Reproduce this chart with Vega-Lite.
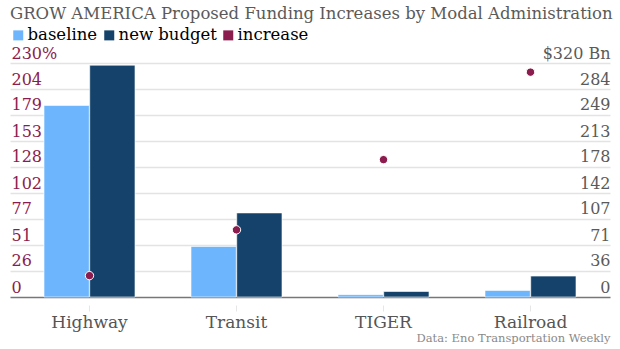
{
  "$schema": "https://vega.github.io/schema/vega-lite/v6.json",
  "width": 600,
  "height": 234,
  "autosize": {"type": "none"},
  "padding": {"left": 10, "right": 10, "top": 63, "bottom": 52},
  "background": "white",
  "config": {
    "view": {"stroke": null},
    "font": "DejaVu Serif"
  },
  "title": {
    "text": "GROW AMERICA Proposed Funding Increases by Modal Administration",
    "anchor": "start",
    "frame": "group",
    "font": "DejaVu Serif",
    "fontSize": 16.5,
    "fontWeight": "normal",
    "color": "#5a5a5a",
    "offset": 5
  },
  "data": {
    "values": [
      {"mode": "Highway", "series": "baseline", "amount": 262},
      {"mode": "Highway", "series": "new budget", "amount": 317},
      {"mode": "Highway", "series": "increase", "pct": 21},
      {"mode": "Transit", "series": "baseline", "amount": 69.2},
      {"mode": "Transit", "series": "new budget", "amount": 115},
      {"mode": "Transit", "series": "increase", "pct": 66},
      {"mode": "TIGER", "series": "baseline", "amount": 3.2},
      {"mode": "TIGER", "series": "new budget", "amount": 7.5},
      {"mode": "TIGER", "series": "increase", "pct": 135},
      {"mode": "Railroad", "series": "baseline", "amount": 9},
      {"mode": "Railroad", "series": "new budget", "amount": 28.6},
      {"mode": "Railroad", "series": "increase", "pct": 221}
    ]
  },
  "encoding": {
    "x": {
      "field": "mode",
      "type": "nominal",
      "sort": ["Highway", "Transit", "TIGER", "Railroad"],
      "scale": {"paddingInner": 0.381, "paddingOuter": 0.2313},
      "axis": {
        "title": "Data: Eno Transportation Weekly",
        "titleAnchor": "end",
        "titleFont": "DejaVu Serif",
        "titleFontSize": 11.5,
        "titleFontWeight": "normal",
        "titleColor": "#8a8a8a",
        "titlePadding": 2,
        "labelAngle": 0,
        "labelFont": "DejaVu Serif",
        "labelFontSize": 17,
        "labelColor": "#555555",
        "labelPadding": 3,
        "domain": false,
        "ticks": true,
        "tickColor": "#e6e6e6",
        "tickSize": 6,
        "offset": 8,
        "grid": false
      }
    },
    "color": {
      "field": "series",
      "type": "nominal",
      "scale": {
        "domain": ["baseline", "new budget", "increase"],
        "range": ["#6db6fe", "#14426a", "#8b1c4e"]
      },
      "legend": {
        "title": null,
        "orient": "none",
        "legendX": 0,
        "legendY": -36,
        "padding": 0,
        "direction": "horizontal",
        "symbolType": "square",
        "symbolSize": 100,
        "symbolStrokeWidth": 0,
        "symbolOpacity": 1,
        "labelFont": "DejaVu Serif",
        "labelFontSize": 16.5,
        "labelOffset": 1,
        "columnPadding": 3,
        "encode": {
          "labels": {"update": {"fill": {"scale": "color", "field": "value"}}},
          "symbols": {"update": {"fill": {"scale": "color", "field": "value"}, "opacity": {"value": 1}}}
        }
      }
    }
  },
  "layer": [
    {
      "transform": [{"filter": "datum.series != 'increase'"}],
      "mark": {"type": "bar", "stroke": "white", "strokeWidth": 0.6},
      "encoding": {
        "xOffset": {
          "field": "series",
          "type": "nominal",
          "sort": ["baseline", "new budget"],
          "scale": {"paddingInner": 0.01}
        },
        "y": {
          "field": "amount",
          "type": "quantitative",
          "scale": {"domain": [0, 320], "nice": false},
          "axis": {
            "orient": "right",
            "title": null,
            "values": [0, 35.556, 71.111, 106.667, 142.222, 177.778, 213.333, 248.889, 284.444, 320],
            "labelExpr": "datum.value >= 319 ? '$320 Bn' : format(datum.value, '.0f')",
            "labelAlign": "right",
            "labelBaseline": "bottom",
            "labelPadding": 0,
            "labelOffset": -2,
            "labelFont": "DejaVu Serif",
            "labelFontSize": 16,
            "labelColor": "#5a5a5a",
            "ticks": false,
            "domain": false,
            "grid": true,
            "gridColor": {"condition": {"test": "datum.value == 0", "value": "#777777"}, "value": "#e3e3e3"},
            "gridWidth": 1.5,
            "zindex": 0
          }
        }
      }
    },
    {
      "transform": [{"filter": "datum.series == 'increase'"}],
      "mark": {"type": "point", "filled": true, "shape": "circle", "size": 70, "stroke": "white", "strokeWidth": 1, "opacity": 1},
      "encoding": {
        "y": {
          "field": "pct",
          "type": "quantitative",
          "scale": {"domain": [0, 230], "nice": false},
          "axis": {
            "orient": "left",
            "title": null,
            "values": [0, 25.556, 51.111, 76.667, 102.222, 127.778, 153.333, 178.889, 204.444, 230],
            "labelExpr": "datum.value >= 229 ? '230%' : format(datum.value, '.0f')",
            "labelAlign": "left",
            "labelBaseline": "bottom",
            "labelPadding": -1,
            "labelOffset": -2,
            "labelFont": "DejaVu Serif",
            "labelFontSize": 16,
            "labelColor": "#8b1c4e",
            "ticks": false,
            "domain": false,
            "grid": false
          }
        }
      }
    }
  ],
  "resolve": {"scale": {"y": "independent"}}
}
